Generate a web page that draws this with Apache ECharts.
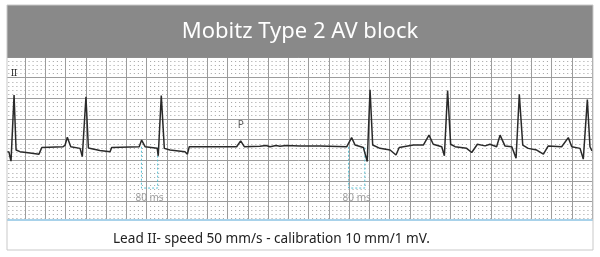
<!DOCTYPE html>
<html>
<head>
<meta charset="utf-8">
<script src="https://cdn.jsdelivr.net/npm/echarts@6/dist/echarts.min.js"></script>
<style>
html,body{margin:0;padding:0;background:#fff;}
#chart{width:600px;height:257px;}
</style>
</head>
<body>
<div id="chart"></div>
<script>
// ---- data (time in ms at 50 mm/s, amplitude in mV relative to baseline) ----
const titleText = 'Mobitz Type 2 AV block';
const leadLabel = 'II';
const footerText = 'Lead II- speed 50 mm/s - calibration 10 mm/1 mV.';
const traceTime = [11,21,26,31,46,56,75,125,169,183,288,298,309,326,372,383,401,413,470,520,528,664,676,693,753,758,773,788,816,890,902,911,1145,1165,1183,1260,1290,1310,1340,1359,1390,1458,1557,1689,1713,1730,1771,1790,1804,1817,1853,1903,1932,1948,2018,2067,2095,2116,2158,2171,2187,2202,2224,2281,2306,2334,2372,2396,2429,2446,2470,2504,2525,2541,2558,2585,2627,2660,2684,2750,2783,2800,2841,2857,2877,2890,2900];
const traceMv   = [-0.12,-0.13,-0.25,-0.35,1.25,-0.08,-0.12,-0.15,-0.18,-0.02,0,0.04,0.23,0,-0.04,-0.24,1.21,-0.03,-0.09,-0.12,-0.02,0,0.16,0,-0.04,-0.22,1.24,-0.04,-0.08,-0.12,-0.18,0,0,0.14,0,0.01,0.03,0,0.03,0.01,0.03,0.02,0.02,0,0.22,0.04,-0.02,-0.36,1.38,0.04,-0.04,-0.08,-0.20,-0.02,0.04,0.04,0.28,0.06,0,-0.22,1.36,0.06,0,-0.04,-0.14,0.06,0.02,0.06,0,0.28,0.02,0,-0.28,1.27,0.04,-0.04,-0.08,-0.18,0.02,0,0.22,0,-0.04,-0.30,1.14,0,-0.10];
const intervalStart = [675, 1698];
const intervalEnd   = [755, 1778];
const intervalLabel = ['80 ms', '80 ms'];
const pWaveTime = [1165];
const pWaveLabel = ['P'];

// ---- layout constants ----
const BASE = 1.831; // baseline position on the paper (mV from bottom of grid)
const boxDepth = -1.0;
const intervalLabelLevel = -1.25;
const pLabelLevel = 0.52;
const GRID_W = 587.25, GRID_H = 165.35;
const minorStepX = GRID_W / 29 / 5;

const trace = traceTime.map((t, i) => [t, traceMv[i] + BASE]);
const boxSeries = intervalStart.map((s, i) => ({
  type: 'line', symbol: 'none', silent: true, z: 3,
  lineStyle: { color: '#55bfd3', width: 1, type: [2, 2] },
  data: [[s, BASE], [s, BASE + boxDepth], [intervalEnd[i], BASE + boxDepth], [intervalEnd[i], BASE]]
}));

const chart = echarts.init(document.getElementById('chart'), null, { renderer: 'canvas' });
const hidden = { axisLine: { show: false }, axisTick: { show: false }, axisLabel: { show: false } };
chart.setOption({
  animation: false,
  backgroundColor: '#ffffff',
  grid: { left: 4.75, top: 57.05, width: GRID_W, height: GRID_H },
  xAxis: Object.assign({ type: 'value', min: 0, max: 2900, interval: 100,
    splitLine: { show: true, lineStyle: { color: '#9c9c9c', width: 1 } },
    minorTick: { show: false, splitNumber: 5 },
    minorSplitLine: { show: false } }, hidden),
  yAxis: Object.assign({ type: 'value', min: 0, max: 4, interval: 0.5,
    splitLine: { show: true, lineStyle: { color: '#9c9c9c', width: 1 } },
    minorTick: { show: false, splitNumber: 5 },
    minorSplitLine: { show: true, lineStyle: { color: '#a9a9a9', width: 1.1, type: [1.1, minorStepX - 1.1], dashOffset: 0.55 } } }, hidden),
  series: [
    { type: 'line', data: trace, symbol: 'none', z: 5, silent: true,
      lineStyle: { color: '#2a2a2a', width: 1.5 } },
    ...boxSeries,
    { type: 'scatter', symbolSize: 0, silent: true, z: 4,
      data: intervalStart.map((s, i) => ({ value: [(s + intervalEnd[i]) / 2, BASE + intervalLabelLevel], name: intervalLabel[i] })),
      label: { show: true, position: 'inside', formatter: p => p.name, color: '#8a8a8a', fontSize: 10, fontFamily: 'Noto Sans' } },
    { type: 'scatter', symbolSize: 0, silent: true, z: 4,
      data: pWaveTime.map((t, i) => ({ value: [t, BASE + pLabelLevel], name: pWaveLabel[i] })),
      label: { show: true, position: 'inside', formatter: p => p.name, color: '#333', fontSize: 10, fontFamily: 'Noto Sans' } }
  ],
  graphic: [
    { type: 'rect', z: 100, shape: { x: 0, y: 0, width: 7, height: 257 }, style: { fill: '#fff' } },
    { type: 'rect', z: 100, shape: { x: 7, y: 220.5, width: 586, height: 30 }, style: { fill: '#fff' } },
    { type: 'rect', z: 100, shape: { x: 7, y: 0, width: 586, height: 5 }, style: { fill: '#fff' } },
    { type: 'rect', z: 101, shape: { x: 7, y: 5, width: 586, height: 52.7 }, style: { fill: '#898989' } },
    { type: 'text', z: 102, x: 300, y: 32, style: { text: titleText, fill: '#fff', fontSize: 22, fontFamily: 'Noto Sans', textAlign: 'center', textVerticalAlign: 'middle' } },
    { type: 'line', z: 102, shape: { x1: 7, y1: 220, x2: 593, y2: 220 }, style: { stroke: '#a8d2ea', lineWidth: 2 } },
    { type: 'rect', z: 103, shape: { x: 7, y: 5, width: 586, height: 245 }, style: { fill: 'none', stroke: '#c9c9c9', lineWidth: 1 } },
    { type: 'text', z: 102, x: 11, y: 73, style: { text: leadLabel, fill: '#222', fontSize: 9, fontFamily: 'Noto Sans', textVerticalAlign: 'middle' } },
    { type: 'text', z: 102, x: 113, y: 239, style: { text: footerText, fill: '#222', fontSize: 13.6, fontFamily: 'Noto Sans', textVerticalAlign: 'middle' } }
  ]
});
</script>
</body>
</html>
